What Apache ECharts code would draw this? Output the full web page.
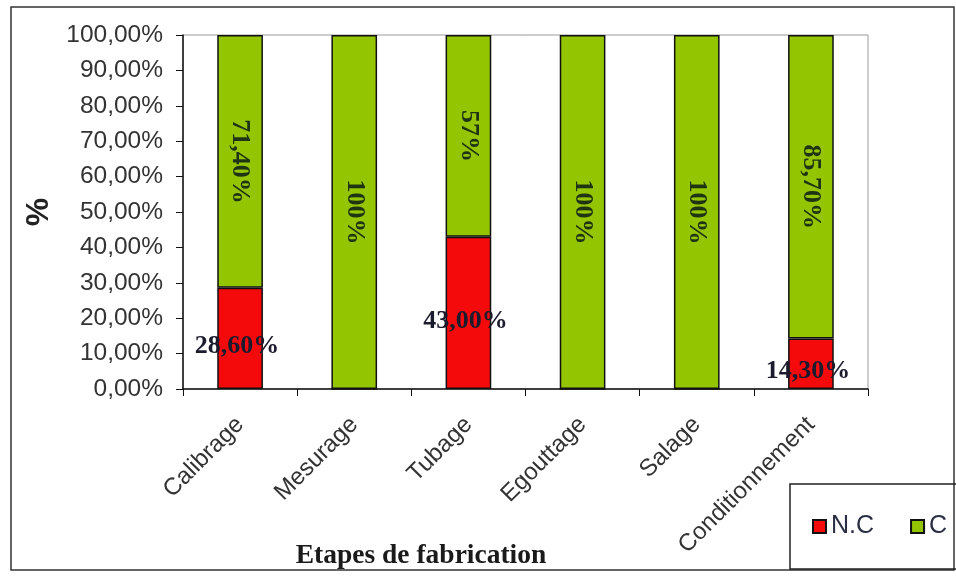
<!DOCTYPE html>
<html>
<head>
<meta charset="utf-8">
<script src="https://cdn.jsdelivr.net/npm/echarts@6/dist/echarts.min.js"></script>
<style>
  html, body { margin: 0; padding: 0; background: #fff; }
  #chart { width: 956px; height: 576px; }
</style>
</head>
<body>
<div id="chart"></div>
<script>
// Manufacturing steps and share of non-conforming (N.C) vs conforming (C) results
const categories = ['Calibrage', 'Mesurage', 'Tubage', 'Egouttage', 'Salage', 'Conditionnement'];
const ncValues = [28.6, 0, 43, 0, 0, 14.3];
const cValues = [71.4, 100, 57, 100, 100, 85.7];
const ncLabels = ['28,60%', '', '43,00%', '', '', '14,30%'];
const cLabels = ['71,40%', '100%', '57%', '100%', '100%', '85,70%'];
const yTickLabels = ['0,00%', '10,00%', '20,00%', '30,00%', '40,00%', '50,00%',
                     '60,00%', '70,00%', '80,00%', '90,00%', '100,00%'];

const chart = echarts.init(document.getElementById('chart'), null, { renderer: 'canvas' });

const sans = '"Liberation Sans", Arial, sans-serif';
const serif = '"Liberation Serif", "Times New Roman", serif';

chart.setOption({
  backgroundColor: '#ffffff',
  animation: false,
  title: {
    text: 'Etapes de fabrication',
    left: 416,
    top: 537,
    textAlign: 'center',
    textStyle: { fontFamily: serif, fontWeight: 'bold', fontSize: 27.5, color: '#1a1a1a' }
  },
  legend: {
    data: ['N.C', 'C'],
    left: 790,
    top: 484,
    width: 400,
    orient: 'horizontal',
    padding: [30, 60, 30, 22],
    itemWidth: 13,
    itemHeight: 13,
    itemGap: 36,
    itemTextGap: 8,
    icon: 'rect',
    borderColor: '#222',
    borderWidth: 1.5,
    textStyle: { fontFamily: sans, fontSize: 25, color: '#2a2f45' }
  },
  graphic: [{
    type: 'rect',
    shape: { x: 11, y: 7, width: 943, height: 563 },
    style: { fill: 'none', stroke: '#333', lineWidth: 1.5 },
    z: -1
  }],
  grid: {
    left: 183, right: 88, top: 35, bottom: 187,
    show: true, borderColor: '#9a9a9a', borderWidth: 1
  },
  xAxis: {
    type: 'category',
    data: categories,
    axisLine: { lineStyle: { color: '#111', width: 1.5 } },
    axisTick: { show: true, alignWithLabel: false, length: 7, lineStyle: { color: '#111' } },
    axisLabel: {
      rotate: 45, interval: 0, margin: 32,
      fontFamily: sans, fontSize: 24, color: '#333'
    }
  },
  yAxis: {
    type: 'value',
    min: 0, max: 100, interval: 10,
    name: '%',
    nameLocation: 'middle',
    nameRotate: 90,
    nameGap: 128,
    nameTextStyle: { fontFamily: sans, fontWeight: 'bold', fontSize: 32, color: '#222' },
    splitLine: { show: false },
    axisLine: { show: true, lineStyle: { color: '#111', width: 1.5 } },
    axisTick: { show: true, length: 7, lineStyle: { color: '#111' } },
    axisLabel: {
      margin: 20,
      fontFamily: sans, fontSize: 24.5, color: '#333',
      formatter: v => yTickLabels[Math.round(v / 10)]
    }
  },
  series: [
    {
      name: 'N.C',
      type: 'bar',
      stack: 'total',
      barWidth: '40%',
      data: ncValues,
      itemStyle: { color: '#f40a0a', borderColor: '#111', borderWidth: 1.5 },
      label: {
        show: true,
        position: 'inside',
        offset: [-3, 8],
        fontFamily: serif, fontWeight: 'bold', fontSize: 26, color: '#1b1b2e',
        formatter: p => ncLabels[p.dataIndex]
      }
    },
    {
      name: 'C',
      type: 'bar',
      stack: 'total',
      barWidth: '40%',
      data: cValues,
      itemStyle: { color: '#93c500', borderColor: '#111', borderWidth: 1.5 },
      label: {
        show: true,
        position: 'inside',
        rotate: -90,
        fontFamily: serif, fontWeight: 'bold', fontSize: 26, color: '#1f3412',
        formatter: p => cLabels[p.dataIndex]
      }
    }
  ]
});
</script>
</body>
</html>
